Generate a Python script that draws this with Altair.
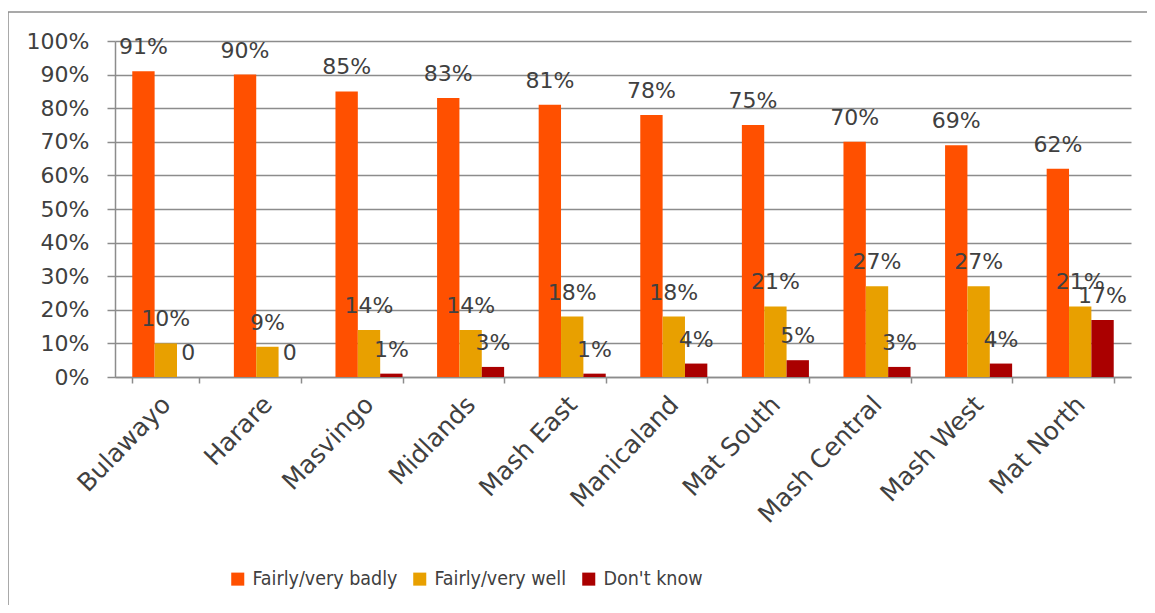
import altair as alt
import pandas as pd

regions = ["Bulawayo", "Harare", "Masvingo", "Midlands", "Mash East",
           "Manicaland", "Mat South", "Mash Central", "Mash West", "Mat North"]
series_names = ["Fairly/very badly", "Fairly/very well", "Don't know"]
badly = [91, 90, 85, 83, 81, 78, 75, 70, 69, 62]
well = [10, 9, 14, 14, 18, 18, 21, 27, 27, 21]
dont_know = [0, 0, 1, 3, 1, 4, 5, 3, 4, 17]
colors = ["#FF5000", "#E8A000", "#AA0000"]
y_ticks = [0, 0.1, 0.2, 0.3, 0.4, 0.5, 0.6, 0.7, 0.8, 0.9, 1.0]

FONT = "DejaVu Sans"
NARROW = "'Liberation Sans Narrow', 'DejaVu Sans Condensed', 'Liberation Sans'"
TXT = "#404040"
GRID = "#8c8c8c"

rows = []
for i, r in enumerate(regions):
    for s, vals in zip(series_names, [badly, well, dont_know]):
        v = vals[i]
        rows.append({"region": r, "series": s, "value": v / 100,
                     "label": "0" if v == 0 else f"{v}%"})
df = pd.DataFrame(rows)

base = alt.Chart(df).encode(
    x=alt.X("region:N", sort=regions, title=None,
            scale=alt.Scale(paddingInner=0.34, paddingOuter=0.17),
            axis=alt.Axis(labelAngle=314, labelAlign="right", labelBaseline="middle",
                          labelPadding=17, labelFontSize=25, labelFont=FONT,
                          labelColor=TXT, tickBand="extent", tickSize=6,
                          tickColor=GRID, tickWidth=1.5, domainColor=GRID,
                          domainWidth=1.5, grid=False)),
    xOffset=alt.XOffset("series:N", sort=series_names,
                        scale=alt.Scale(paddingInner=0, paddingOuter=0)),
    y=alt.Y("value:Q", title=None, scale=alt.Scale(domain=[0, 1]),
            axis=alt.Axis(values=y_ticks, format=".0%", grid=True,
                          gridColor=GRID, gridWidth=1.5, domainColor=GRID,
                          domainWidth=1.5, tickColor=GRID, tickSize=8,
                          tickWidth=1.5, labelPadding=18, labelFontSize=22,
                          labelFont=FONT, labelColor=TXT)),
)

bars = base.mark_bar().encode(
    color=alt.Color("series:N", sort=series_names,
                    scale=alt.Scale(domain=series_names, range=colors),
                    legend=alt.Legend(title=None, orient="none", legendX=113,
                                      legendY=528, direction="horizontal",
                                      symbolType="square", symbolSize=170,
                                      symbolStrokeWidth=0, labelFontSize=19.5,
                                      labelFont=NARROW, labelColor=TXT,
                                      columnPadding=12, labelLimit=0,
                                      labelOffset=5))
)

text = base.mark_text(dy=-17, baseline="alphabetic", fontSize=22, font=FONT,
                      color=TXT).encode(text="label:N")

frame_df = pd.DataFrame({"k": [0]})
frame_left = alt.Chart(frame_df).mark_rule(color=GRID, strokeWidth=1.5).encode(
    x=alt.value(-107), y=alt.value(-29), y2=alt.value(700))
frame_top = alt.Chart(frame_df).mark_rule(color=GRID, strokeWidth=1.5).encode(
    x=alt.value(-107), x2=alt.value(1200), y=alt.value(-29))

chart = alt.layer(frame_left, frame_top, bars, text).properties(
    width=1016, height=336,
    autosize=alt.AutoSizeParams(type="none"),
    padding={"left": 107, "top": 33, "right": 16, "bottom": 228},
).configure_view(stroke=None)

chart.save("out.html", embed_options={"renderer": "svg", "actions": False})
